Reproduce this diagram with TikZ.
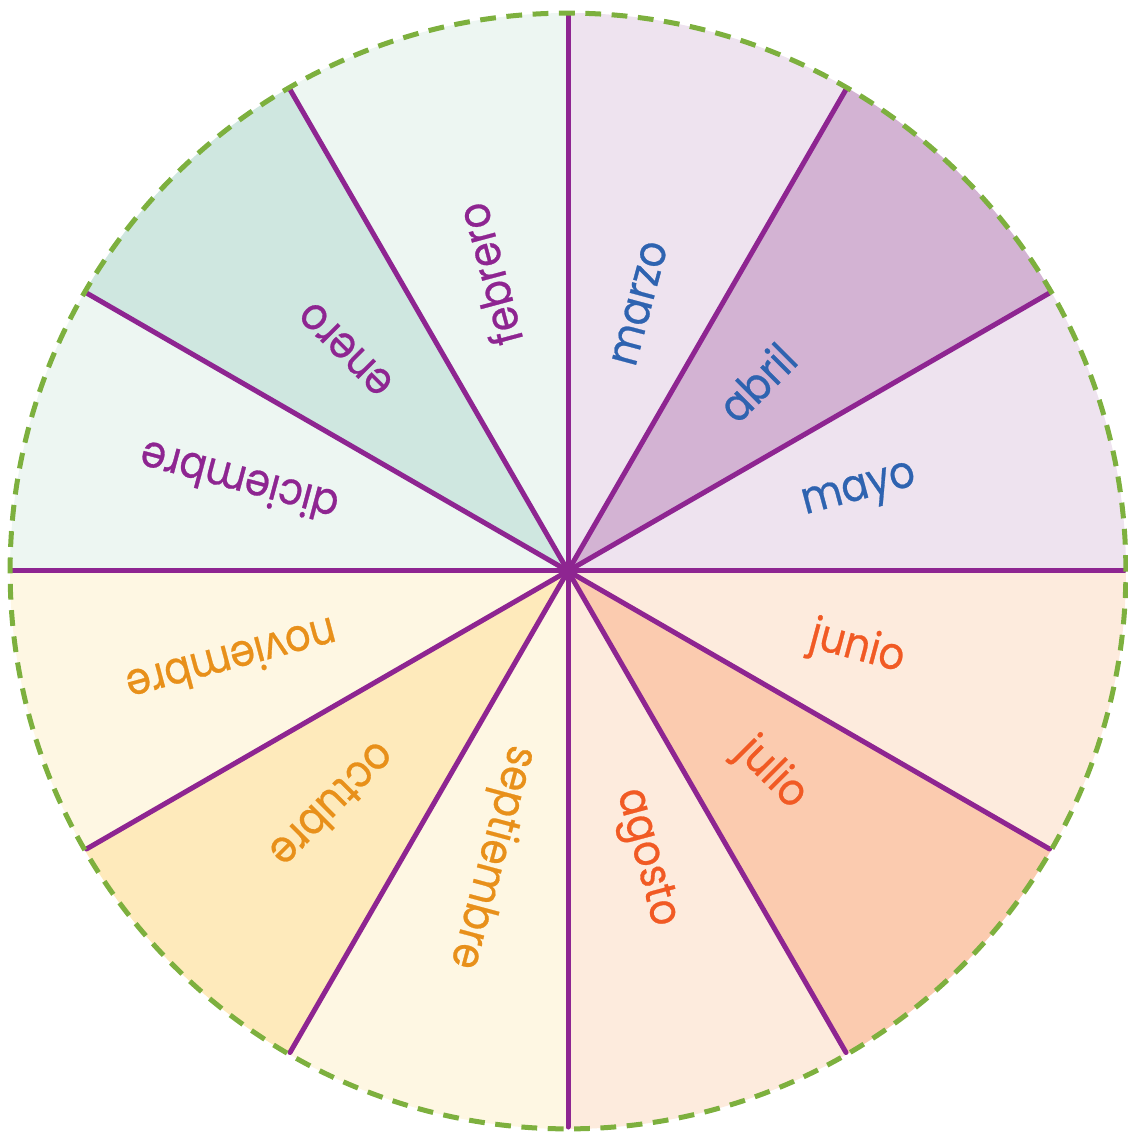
\documentclass[tikz,border=0pt]{standalone}
\usepackage{fontspec}
\setmainfont{Poppins}[FakeStretch=0.89,FakeBold=0.6]
\usetikzlibrary{calc}
\definecolor{ruedaLine}{HTML}{8E2591}
\definecolor{ruedaRim}{HTML}{7DB03E}
\definecolor{menta}{HTML}{EDF6F2}
\definecolor{mentaOsc}{HTML}{CFE7E0}
\definecolor{lila}{HTML}{EEE3EF}
\definecolor{lilaOsc}{HTML}{D3B3D3}
\definecolor{melon}{HTML}{FDEBDD}
\definecolor{melonOsc}{HTML}{FBCBAF}
\definecolor{crema}{HTML}{FEF7E3}
\definecolor{cremaOsc}{HTML}{FEEABB}
\definecolor{tAzul}{HTML}{2E63B0}
\definecolor{tRojo}{HTML}{F15A24}
\definecolor{tNaranja}{HTML}{E8901A}
\definecolor{tMorado}{HTML}{8E2591}
\tikzset{
  spoke/.style ={ruedaLine,line width=2.85pt,line cap=round},
  rim/.style   ={draw=ruedaRim,line width=2.85pt,dash pattern=on 9pt off 6pt},
  mes/.style   ={font=\fontsize{25.5}{26}\selectfont,inner sep=0pt},
}
\begin{document}
\begin{tikzpicture}[x=0.02cm,y=0.02cm]
\useasboundingbox (0,0) rectangle (1128,1133);
\coordinate (c) at (568,562);

% sectors and month names
\foreach \a/\nombre/\fondo/\tinta/\r in {
   75/marzo/lila/tAzul/277,          45/abril/lilaOsc/tAzul/267,
   15/mayo/lila/tAzul/302,          -15/junio/melon/tRojo/299,
  -45/julio/melonOsc/tRojo/287,     -75/agosto/melon/tRojo/297,
 -105/septiembre/crema/tNaranja/296, -135/octubre/cremaOsc/tNaranja/332,
  195/noviembre/crema/tNaranja/348,  165/diciembre/menta/tMorado/341,
  135/enero/mentaOsc/tMorado/314,    105/febrero/menta/tMorado/307}
{
  \fill[\fondo] (c) -- ++(\a-15:558) arc[start angle=\a-15,delta angle=30,radius=11.16cm] -- cycle;
  \node[mes,text=\tinta,rotate=\a] (m-\nombre) at ($(c)+(\a:\r)$) {\nombre};
}

% spokes
\foreach \a in {0,30,...,330}
  \draw[spoke] (c) -- ++(\a:556);
\fill[ruedaLine] (c) circle[radius=0.12cm];

% rim
\draw[rim] (c) circle[radius=11.16cm];
\end{tikzpicture}
\end{document}
